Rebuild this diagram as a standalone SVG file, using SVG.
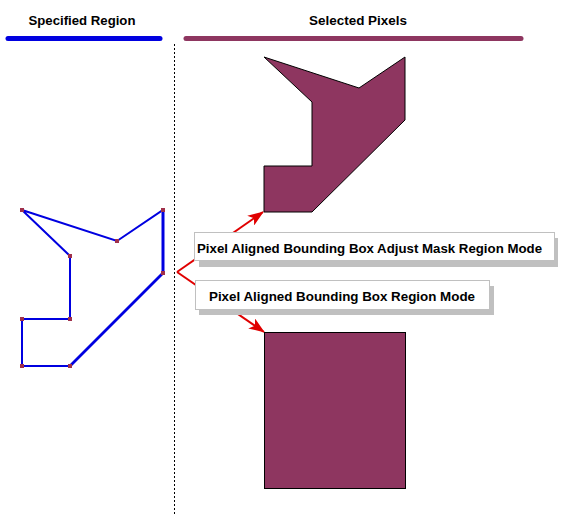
<svg xmlns="http://www.w3.org/2000/svg" width="566" height="514" viewBox="0 0 566 514">
<style>
.hdr{font-family:"Liberation Sans",Arial,sans-serif;font-weight:bold;font-size:13.5px;fill:#000;text-anchor:middle}
.lbl{font-family:"Liberation Sans",Arial,sans-serif;font-weight:bold;font-size:13.5px;fill:#000}
.box{fill:#fff;stroke:#c0c0c0;stroke-width:1}
.shd{fill:#c0c0c0}
.arr{stroke:#e00000;stroke-width:2;fill:none}
.vtx{fill:#a0304a}
.sel{fill:#8e3660;stroke:#000;stroke-width:1}
</style>
<defs>
<marker id="ah" viewBox="0 0 16 12" refX="15" refY="6" markerWidth="16" markerHeight="12" markerUnits="userSpaceOnUse" orient="auto">
<path d="M0,0 L16,6 L0,12 L4,6 z" fill="#e00000"/>
</marker>
</defs>
<rect width="566" height="514" fill="#fff"/>
<g id="headers">
<text class="hdr" x="82" y="25" textLength="107" lengthAdjust="spacingAndGlyphs">Specified Region</text>
<text class="hdr" x="358" y="25" textLength="98" lengthAdjust="spacingAndGlyphs">Selected Pixels</text>
<line x1="8" y1="38.5" x2="160" y2="38.5" stroke="#0000e0" stroke-width="5" stroke-linecap="round"/>
<line x1="186" y1="38.5" x2="521" y2="38.5" stroke="#8e3660" stroke-width="5" stroke-linecap="round"/>
<line x1="174.5" y1="44" x2="174.5" y2="514" stroke="#000" stroke-width="1" stroke-dasharray="2,2"/>
</g>
<g id="connectors">
<line class="arr" x1="177" y1="272" x2="263" y2="212" marker-end="url(#ah)"/>
<line class="arr" x1="177" y1="272" x2="264" y2="332" marker-end="url(#ah)"/>
</g>
<g id="specified-region">
<polygon points="22,210 117,241 163,210 163,273 70,366 22,366 22,319 70,319 70,256" fill="none" stroke="#0000e0" stroke-width="2"/>
<line x1="163" y1="210" x2="163" y2="273" stroke="#0000e0" stroke-width="3"/>
<line x1="163" y1="273" x2="70" y2="366" stroke="#0000e0" stroke-width="2.6"/>
<rect class="vtx" x="20" y="208" width="4" height="4"/>
<rect class="vtx" x="115" y="239" width="4" height="4"/>
<rect class="vtx" x="161" y="208" width="4" height="4"/>
<rect class="vtx" x="161" y="271" width="4" height="4"/>
<rect class="vtx" x="68" y="364" width="4" height="4"/>
<rect class="vtx" x="20" y="364" width="4" height="4"/>
<rect class="vtx" x="20" y="317" width="4" height="4"/>
<rect class="vtx" x="68" y="317" width="4" height="4"/>
<rect class="vtx" x="68" y="254" width="4" height="4"/>
</g>
<g id="selected-adjust">
<polygon class="sel" points="264,57 359,88 405,57 405,120 312,212 264,212 264,166 312,166 312,102"/>
</g>
<g id="selected-bbox">
<rect class="sel" x="264.5" y="332.5" width="141" height="156"/>
</g>
<g id="label-adjust">
<rect class="shd" x="199" y="238" width="359" height="29"/>
<rect class="box" x="194.5" y="232.5" width="360" height="28"/>
<text class="lbl" x="197" y="253" textLength="345" lengthAdjust="spacingAndGlyphs">Pixel Aligned Bounding Box Adjust Mask Region Mode</text>
</g>
<g id="label-bbox">
<rect class="shd" x="199" y="286" width="295" height="29"/>
<rect class="box" x="195.5" y="280.5" width="294" height="29"/>
<text class="lbl" x="209" y="301" textLength="266" lengthAdjust="spacingAndGlyphs">Pixel Aligned Bounding Box Region Mode</text>
</g>
</svg>
